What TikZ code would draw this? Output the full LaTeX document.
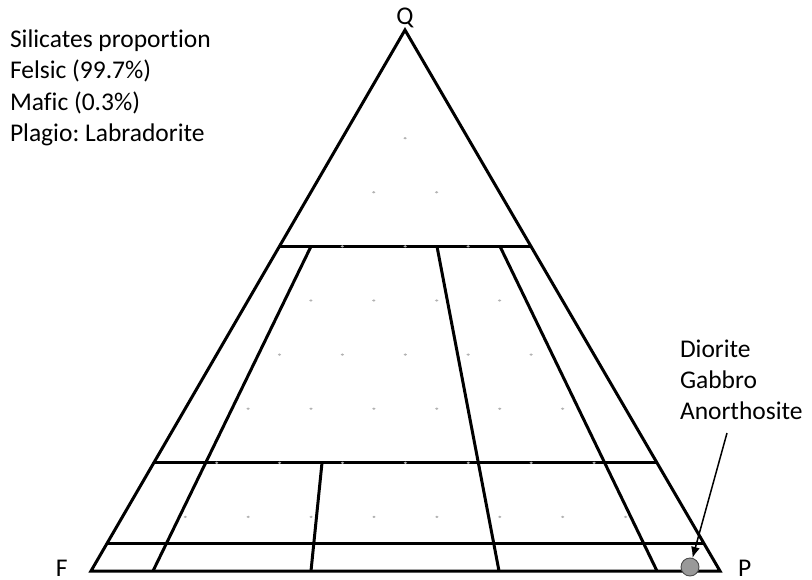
\documentclass[tikz,border=0pt]{standalone}
\usepackage{fontspec}
\setmainfont[RawFeature={-liga}]{Carlito}
\frenchspacing
\usetikzlibrary{calc,arrows.meta}
\begin{document}
\begin{tikzpicture}[x=1pt,y=-1pt,
  edge/.style={line width=3pt, line cap=butt, line join=miter},
  lbl/.style={font=\fontsize{25.5}{31.5}\selectfont, inner sep=0pt, outer sep=0pt, text=black},
  griddot/.style={fill=black!30},
  pointer/.style={line width=1.5pt, -{Latex[length=11pt,width=9pt]}},
  sample/.style={circle, minimum size=18pt, inner sep=0pt, fill=black!40, draw=black!70, line width=0.9pt}
]
\useasboundingbox (0,0) rectangle (812,579);
% corners
\coordinate (F) at (91,571);
\coordinate (P) at (720,571);
\coordinate (Q) at (405,30);
% horizontal division points
\coordinate (L60) at ($(F)!0.6!(Q)$);
\coordinate (R60) at ($(P)!0.6!(Q)$);
\coordinate (L20) at ($(F)!0.2!(Q)$);
\coordinate (R20) at ($(P)!0.2!(Q)$);
\coordinate (L05) at ($(F)!0.05!(Q)$);
\coordinate (R05) at ($(P)!0.05!(Q)$);
% interior line ends
\coordinate (a10t) at (311,246.4);
\coordinate (a10b) at (153,571);
\coordinate (a35t) at (322,462.8);
\coordinate (a35b) at (311,571);
\coordinate (a65t) at (437,246.4);
\coordinate (a65b) at (499,571);
\coordinate (a90t) at (500,246.4);
\coordinate (a90b) at (657,571);

% triangle and field boundaries
\draw[edge] (F) -- (P) -- (Q) -- cycle;
\draw[edge] (L60) -- (R60);
\draw[edge] (L20) -- (R20);
\draw[edge] (L05) -- (R05);
\draw[edge] (a10t) -- (a10b);
\draw[edge] (a35t) -- (a35b);
\draw[edge] (a65t) -- (a65b);
\draw[edge] (a90t) -- (a90b);

% grid dots (10% ternary grid, interior points)
\foreach \q in {1,...,8}{
  \pgfmathtruncatemacro\n{9-\q}
  \foreach \a in {1,...,\n}{
    \pgfmathtruncatemacro\p{10-\q-\a}
    \fill[griddot] ($\a/10*(F)+\p/10*(P)+\q/10*(Q)$) ellipse (1.7 and 1.2);
  }
}

% sample point and pointer
\node[sample] (rock) at (690,567) {};
\coordinate (arrS) at (727,433);
\draw[pointer] (arrS) -- (rock);

% corner labels
\node[lbl, anchor=base] (lQ) at (405,24) {Q};
\node[lbl, anchor=base west, text depth=0pt] (lF) at (56,576) {F};
\node[lbl, anchor=base west, text depth=0pt] (lP) at (738,576) {P};

% info text
\node[lbl, anchor=base west] (t1) at (10,47) {Silicates proportion};
\node[lbl, anchor=base west] (t2) at (10,78.5) {Felsic (99.7\%)};
\node[lbl, anchor=base west] (t3) at (10,110) {Mafic (0.3\%)};
\node[lbl, anchor=base west] (t4) at (10,141.5) {Plagio: Labradorite};

\node[lbl, anchor=base west] (d1) at (680,357) {Diorite};
\node[lbl, anchor=base west] (d2) at (680,388) {Gabbro};
\node[lbl, anchor=base west] (d3) at (680,419) {Anorthosite};
\end{tikzpicture}
\end{document}
